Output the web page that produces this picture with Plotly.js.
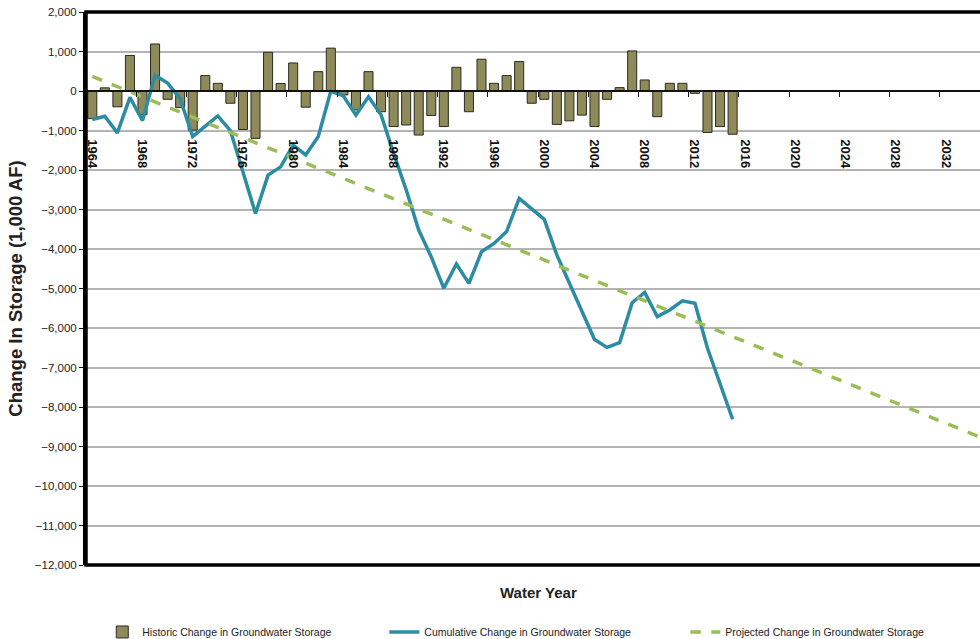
<!DOCTYPE html>
<html>
<head>
<meta charset="utf-8">
<script src="https://cdn.plot.ly/plotly-3.0.1.min.js"></script>
<style>
html,body{margin:0;padding:0;overflow:hidden;background:#fff;}
#chart{width:1000px;height:639px;}
</style>
</head>
<body>
<div id="chart"></div>
<script>
// ---- data ----
const years = [1964,1965,1966,1967,1968,1969,1970,1971,1972,1973,1974,1975,1976,1977,1978,1979,1980,1981,1982,1983,1984,1985,1986,1987,1988,1989,1990,1991,1992,1993,1994,1995,1996,1997,1998,1999,2000,2001,2002,2003,2004,2005,2006,2007,2008,2009,2010,2011,2012,2013,2014,2015];

const historicChange = [-700,80,-400,900,-600,1190,-210,-420,-990,390,195,-310,-975,-1200,980,190,710,-410,490,1085,-100,-480,490,-525,-900,-860,-1115,-620,-900,600,-525,805,195,390,745,-310,-210,-845,-755,-610,-900,-210,85,1015,280,-650,195,195,-60,-1050,-900,-1095];

const cumulativeChange = [-720,-640,-1060,-160,-750,400,200,-200,-1150,-900,-630,-1000,-2050,-3100,-2130,-1920,-1370,-1620,-1150,0,-125,-610,-145,-600,-1580,-2500,-3520,-4200,-4995,-4380,-4870,-4070,-3860,-3560,-2720,-2995,-3250,-4150,-4870,-5545,-6290,-6490,-6370,-5360,-5100,-5710,-5545,-5310,-5375,-6515,-7400,-8310];

const projectedYears = [1964, 2035];
const projectedChange = [370, -8800];

const tickYears = [1964,1968,1972,1976,1980,1984,1988,1992,1996,2000,2004,2008,2012,2016,2020,2024,2028,2032];
const tickLabels = tickYears.map(String);

const seriesNames = ['Historic Change in Groundwater Storage','Cumulative Change in Groundwater Storage','Projected Change in Groundwater Storage'];

// ---- chart ----
const FONT = 'Liberation Sans, Arial, Helvetica, sans-serif';

const traces = [
  {
    type:'bar', x: years, y: historicChange, name: seriesNames[0],
    marker:{color:'#8f8a59', line:{color:'#2b2b1f', width:1}},
    legend:'legend'
  },
  {
    type:'scatter', mode:'lines', x: years, y: cumulativeChange, name: seriesNames[1],
    line:{color:'#2c8ca3', width:3.5},
    legend:'legend2'
  },
  {
    type:'scatter', mode:'lines', x: projectedYears, y: projectedChange, name: seriesNames[2],
    line:{color:'#9bbd55', width:3.5, dash:'dash'},
    legend:'legend3'
  }
];

const legendCommon = {orientation:'h', yref:'container', yanchor:'middle', y:0.011, xanchor:'left', font:{family:FONT, size:10.5, color:'#222'}, bgcolor:'rgba(0,0,0,0)'};

const layout = {
  width:1000, height:639,
  margin:{l:86, r:10, t:12, b:74, autoexpand:false},
  paper_bgcolor:'#fff', plot_bgcolor:'#fff',
  font:{family:FONT, color:'#111'},
  bargap:0.28,
  showlegend:true,
  legend: Object.assign({}, legendCommon, {x:0.018}),
  legend2: Object.assign({}, legendCommon, {x:0.330}),
  legend3: Object.assign({}, legendCommon, {x:0.663}),
  xaxis:{
    range:[1963.5, 2035.5],
    anchor:'free', position: 12000/14000,
    tickmode:'array',
    tickvals: tickYears.map(y => y - 0.5),
    ticktext: tickLabels,
    ticklabelshift: 6,
    ticklabelstandoff: 40,
    tickangle: 90,
    ticks:'outside', ticklen:5, tickwidth:1.2, tickcolor:'#111',
    showline:true, linecolor:'#111', linewidth:1.5,
    showgrid:false, zeroline:false,
    tickfont:{family:FONT, size:13, color:'#111', weight:'bold'}
  },
  yaxis:{
    range:[-12000, 2000], dtick:1000, tick0:0,
    tickformat:',d',
    ticks:'outside', ticklen:4, tickcolor:'#111',
    showline:true, linecolor:'#000', linewidth:3,
    showgrid:true, gridcolor:'#b4b4b4', gridwidth:1.5,
    zeroline:false,
    tickfont:{family:FONT, size:11.5, color:'#222'},
    title:{text:'Change In Storage (1,000 AF)', standoff:8, font:{family:FONT, size:18.5, color:'#222', weight:'bold'}}
  },
  shapes:[
    {type:'rect', xref:'paper', yref:'paper', x0:0, x1:1, y0:0, y1:1, line:{color:'#000', width:3.5}, fillcolor:'rgba(0,0,0,0)', layer:'above'}
  ],
  annotations:[
    {text:'Water Year', xref:'paper', yref:'paper', x:0.5, y:-0.049, xanchor:'center', yanchor:'middle', showarrow:false, font:{family:FONT, size:15, color:'#222', weight:'bold'}}
  ]
};

Plotly.newPlot('chart', traces, layout, {displayModeBar:false, responsive:false});
</script>
</body>
</html>
